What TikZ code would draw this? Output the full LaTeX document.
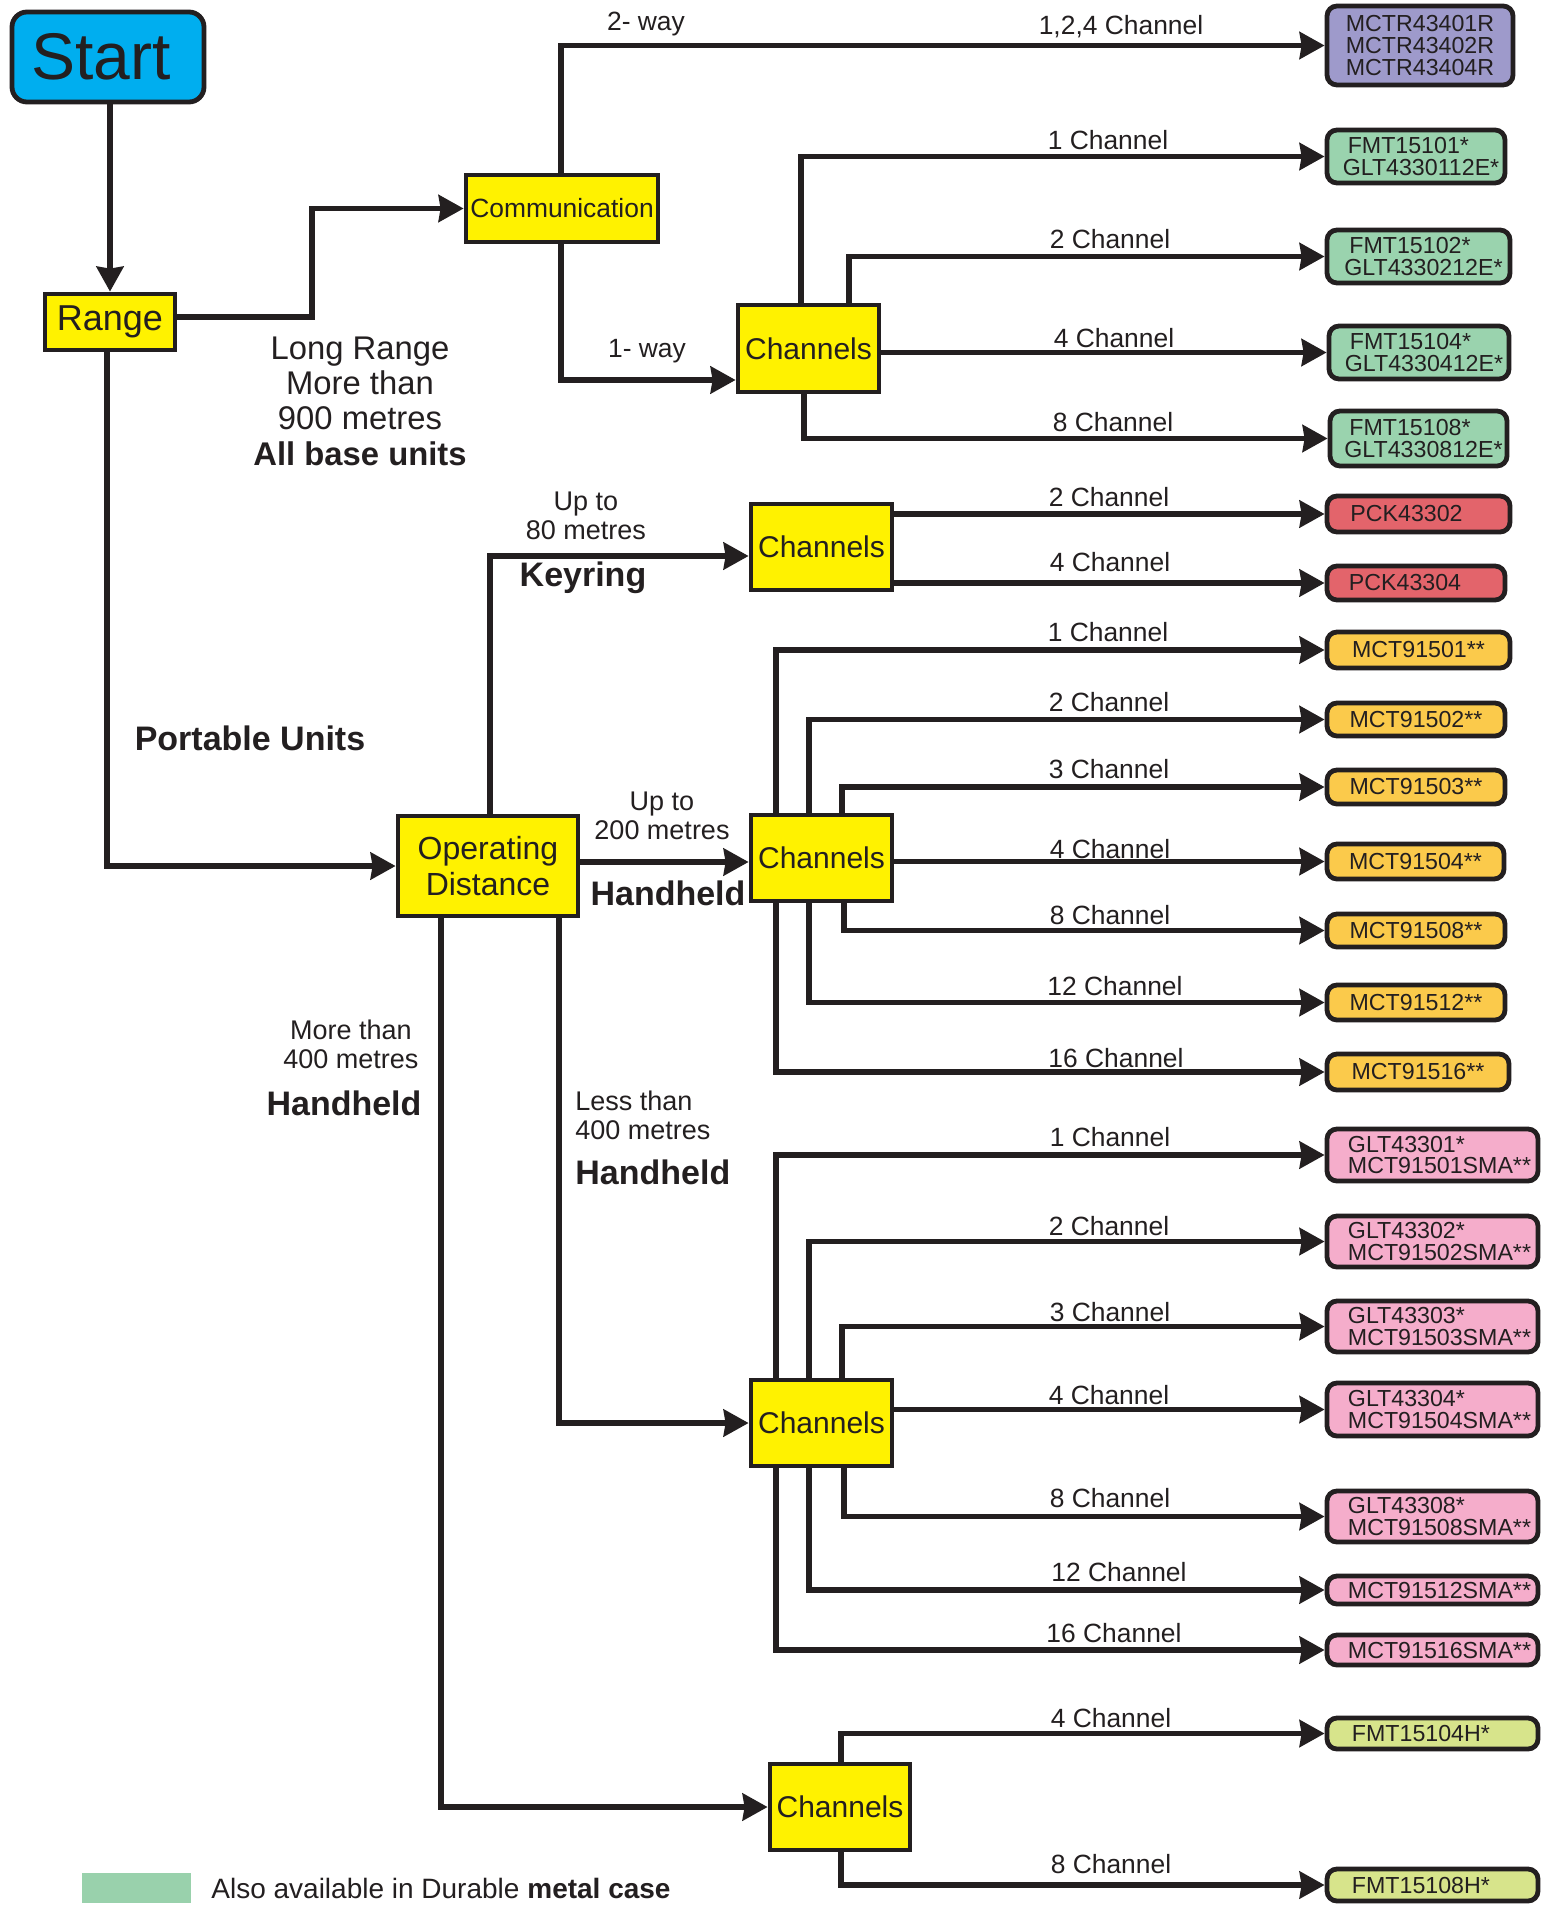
\documentclass[tikz,border=0pt]{standalone}
\usepackage{fontspec}
\setmainfont{Liberation Sans}
\usetikzlibrary{arrows.meta}
\definecolor{ink}{HTML}{231F20}
\definecolor{yellowc}{HTML}{FFF200}
\definecolor{cyanc}{HTML}{00AEEF}
\definecolor{purplec}{HTML}{9E9ACB}
\definecolor{greenc}{HTML}{9AD3AE}
\definecolor{redc}{HTML}{E3646B}
\definecolor{orangec}{HTML}{FBCA4B}
\definecolor{pinkc}{HTML}{F5ADCB}
\definecolor{limec}{HTML}{D7E48B}
\definecolor{legendc}{HTML}{99D1AC}
\newcommand{\padd}[1]{\rule{#1}{0pt}}
\tikzset{
  spanbox/.style n args={4}{at={({(#1+#3)/2},{(#2+#4)/2})},
     minimum width={(#3-#1)*0.5pt}, minimum height={(#4-#2)*0.5pt}},
  box/.style={draw=ink, line width=2.4pt, inner sep=0pt, text=ink, anchor=center},
  ybox/.style={box, fill=yellowc, font=\fontsize{15}{18}\selectfont},
  rbox/.style={box, rounded corners=5pt, font=\fontsize{11.6}{10.6}\selectfont},
  arr/.style={draw=ink, line width=2.6pt, -{Stealth[length=12.5pt,width=13.5pt,inset=1pt]}},
  lbl/.style={text=ink, font=\fontsize{13.2}{15}\selectfont, inner sep=0pt},
  blbl/.style={text=ink, font=\fontsize{17}{20}\selectfont\bfseries, inner sep=0pt},
  mlbl/.style={text=ink, font=\fontsize{13.5}{14.5}\selectfont, inner sep=0pt, align=center}
}
\begin{document}
\begin{tikzpicture}[x=0.5pt,y=-0.5pt]
\useasboundingbox (0,0) rectangle (1550,1910);
\fill[white] (0,0) rectangle (1550,1910);

% main nodes
\node[box, fill=cyanc, rounded corners=7.5pt, spanbox={12}{12}{204}{102}, font=\fontsize{33}{36}\selectfont] (start) {Start\padd{7pt}};
\node[ybox, spanbox={45}{294}{175}{350}, font=\fontsize{18}{20}\selectfont] (range) {Range};
\node[ybox, spanbox={466}{175}{658}{242}, font=\fontsize{13.2}{15}\selectfont] (comm) {Communication};
\node[ybox, spanbox={738}{305}{879}{392}] (ch1) {Channels};
\node[ybox, spanbox={398}{816}{578}{916}, font=\fontsize{16}{18}\selectfont, align=center] (od) {Operating\\Distance};
\node[ybox, spanbox={751}{504}{892}{590}] (ch2) {Channels};
\node[ybox, spanbox={751}{815}{892}{901}] (ch3) {Channels};
\node[ybox, spanbox={751}{1380}{892}{1466}] (ch4) {Channels};
\node[ybox, spanbox={770}{1764}{910}{1850}] (ch5) {Channels};

% product boxes
\node[rbox, fill=purplec, spanbox={1327}{6}{1513}{85}, align=center, font=\fontsize{11.6}{11}\selectfont] (mctr) {MCTR43401R\\MCTR43402R\\MCTR43404R};
\node[rbox, fill=greenc, spanbox={1327}{130}{1505}{183}, align=left] (fmt1) {\padd{7.5pt}FMT15101*\\\padd{5pt}GLT4330112E*};
\node[rbox, fill=greenc, spanbox={1327}{230}{1510}{283}, align=left] (fmt2) {\padd{7.5pt}FMT15102*\\\padd{5pt}GLT4330212E*};
\node[rbox, fill=greenc, spanbox={1329}{326}{1509}{379}, align=left] (fmt4) {\padd{7.5pt}FMT15104*\\\padd{5pt}GLT4330412E*};
\node[rbox, fill=greenc, spanbox={1330}{411}{1507}{466}, align=left] (fmt8) {\padd{7.5pt}FMT15108*\\\padd{5pt}GLT4330812E*};

\node[rbox, fill=redc, spanbox={1327}{496}{1510}{532}] (pck2) {PCK43302\padd{12pt}};
\node[rbox, fill=redc, spanbox={1327}{566}{1505}{600}] (pck4) {PCK43304\padd{11pt}};

\node[rbox, fill=orangec, spanbox={1327}{632}{1510}{668}] (mct1) {MCT91501**};
\node[rbox, fill=orangec, spanbox={1327}{703}{1505}{736}] (mct2) {MCT91502**};
\node[rbox, fill=orangec, spanbox={1327}{770}{1505}{804}] (mct3) {MCT91503**};
\node[rbox, fill=orangec, spanbox={1327}{844}{1504}{879}] (mct4) {MCT91504**};
\node[rbox, fill=orangec, spanbox={1327}{914}{1505}{947}] (mct8) {MCT91508**};
\node[rbox, fill=orangec, spanbox={1327}{985}{1505}{1020}] (mct12) {MCT91512**};
\node[rbox, fill=orangec, spanbox={1327}{1054}{1509}{1090}] (mct16) {MCT91516**};

\node[rbox, fill=pinkc, spanbox={1327}{1129}{1538}{1181}, align=left] (glt1) {\padd{7pt}GLT43301*\\\padd{7pt}MCT91501SMA**};
\node[rbox, fill=pinkc, spanbox={1327}{1216}{1538}{1267}, align=left] (glt2) {\padd{7pt}GLT43302*\\\padd{7pt}MCT91502SMA**};
\node[rbox, fill=pinkc, spanbox={1327}{1301}{1538}{1352}, align=left] (glt3) {\padd{7pt}GLT43303*\\\padd{7pt}MCT91503SMA**};
\node[rbox, fill=pinkc, spanbox={1327}{1383}{1538}{1436}, align=left] (glt4) {\padd{7pt}GLT43304*\\\padd{7pt}MCT91504SMA**};
\node[rbox, fill=pinkc, spanbox={1327}{1491}{1538}{1542}, align=left] (glt8) {\padd{7pt}GLT43308*\\\padd{7pt}MCT91508SMA**};
\node[rbox, fill=pinkc, spanbox={1327}{1576}{1538}{1604}] (sma12) {\padd{7pt}MCT91512SMA**};
\node[rbox, fill=pinkc, spanbox={1327}{1635}{1538}{1665}] (sma16) {\padd{7pt}MCT91516SMA**};

\node[rbox, fill=limec, spanbox={1327}{1718}{1538}{1749}] (fh4) {FMT15104H*\padd{11.6pt}};
\node[rbox, fill=limec, spanbox={1327}{1869}{1538}{1901}] (fh8) {FMT15108H*\padd{11.6pt}};

% bend coordinates
\coordinate (xc) at (561,0);
\coordinate (k1w) at (561,380);
\coordinate (kr) at (312,317);
\coordinate (xa1) at (801,0);
\coordinate (xa2) at (849,0);
\coordinate (xa8) at (804,0);
\coordinate (kp) at (107,0);
\coordinate (kk) at (490,556);
\coordinate (kh) at (0,862);
\coordinate (kl) at (559,1423);
\coordinate (km) at (441,1807);
\coordinate (xb1) at (776,0);
\coordinate (xb2) at (809,0);
\coordinate (xb3) at (842,0);
\coordinate (xb8) at (844,0);
\coordinate (xd) at (841,0);

% connectors
\draw[arr] (start.south -| range.north) -- (range.north);
\draw[arr] (range.east |- kr) -- (kr) |- (comm.west);
\draw[arr] (comm.north -| xc) |- (mctr.west);
\draw[arr] (comm.south -| xc) -- (k1w) -- (ch1.west |- k1w);
\draw[arr] (ch1.north -| xa1) |- (fmt1.west);
\draw[arr] (ch1.north -| xa2) |- (fmt2.west);
\draw[arr] (ch1.east |- fmt4.west) -- (fmt4.west);
\draw[arr] (ch1.south -| xa8) |- (fmt8.west);

\draw[arr] (range.south -| kp) |- (od.west);
\draw[arr] (od.north -| kk) |- (ch2.west |- kk);
\draw[arr] (ch2.east |- pck2.west) -- (pck2.west);
\draw[arr] (ch2.east |- pck4.west) -- (pck4.west);

\draw[arr] (od.east |- kh) -- (ch3.west |- kh);
\draw[arr] (ch3.north -| xb1) |- (mct1.west);
\draw[arr] (ch3.north -| xb2) |- (mct2.west);
\draw[arr] (ch3.north -| xb3) |- (mct3.west);
\draw[arr] (ch3.east |- mct4.west) -- (mct4.west);
\draw[arr] (ch3.south -| xb8) |- (mct8.west);
\draw[arr] (ch3.south -| xb2) |- (mct12.west);
\draw[arr] (ch3.south -| xb1) |- (mct16.west);

\draw[arr] (od.south -| kl) |- (ch4.west |- kl);
\draw[arr] (ch4.north -| xb1) |- (glt1.west);
\draw[arr] (ch4.north -| xb2) |- (glt2.west);
\draw[arr] (ch4.north -| xb3) |- (glt3.west);
\draw[arr] (ch4.east |- glt4.west) -- (glt4.west);
\draw[arr] (ch4.south -| xb8) |- (glt8.west);
\draw[arr] (ch4.south -| xb2) |- (sma12.west);
\draw[arr] (ch4.south -| xb1) |- (sma16.west);

\draw[arr] (od.south -| km) |- (ch5.west);
\draw[arr] (ch5.north -| xd) |- (fh4.west);
\draw[arr] (ch5.south -| xd) |- (fh8.west);

% labels
\node[lbl] (l2way) at (646,24) {2- way};
\node[lbl] (l124) at (1121,27) {1,2,4 Channel};
\node[lbl] (l1way) at (647,351) {1- way};
\node[lbl] (la1) at (1108,140) {1 Channel};
\node[lbl] (la2) at (1110,239) {2 Channel};
\node[lbl] (la4) at (1114,338) {4 Channel};
\node[lbl] (la8) at (1113,422) {8 Channel};

\node[text=ink, inner sep=0pt, align=center, font=\fontsize{16.4}{17.7}\selectfont] (llong) at (360,401) {Long Range\\More than\\900 metres\\\textbf{All base units}};
\node[blbl] (lport) at (250,738) {Portable Units};

\node[mlbl] (lup80) at (586,516) {Up to\\80 metres};
\node[blbl] (lkey) at (583,578) {Keyring};
\node[lbl] (lb2) at (1109,497) {2 Channel};
\node[lbl] (lb4) at (1110,562) {4 Channel};

\node[mlbl] (lup200) at (662,816) {Up to\\200 metres};
\node[blbl] (lhh1) at (668,893) {Handheld};
\node[lbl] (lc1) at (1108,632) {1 Channel};
\node[lbl] (lc2) at (1109,702) {2 Channel};
\node[lbl] (lc3) at (1109,769) {3 Channel};
\node[lbl] (lc4) at (1110,849) {4 Channel};
\node[lbl] (lc8) at (1110,915) {8 Channel};
\node[lbl] (lc12) at (1115,986) {12 Channel};
\node[lbl] (lc16) at (1116,1058) {16 Channel};

\node[mlbl] (lmore) at (351,1044) {More than\\400 metres};
\node[blbl] (lhh2) at (344,1103) {Handheld};
\node[mlbl, align=left, anchor=west] (lless) at (575,1115) {Less than\\400 metres};
\node[blbl, anchor=west] (lhh3) at (575,1172) {Handheld};
\node[lbl] (ld1) at (1110,1137) {1 Channel};
\node[lbl] (ld2) at (1109,1226) {2 Channel};
\node[lbl] (ld3) at (1110,1312) {3 Channel};
\node[lbl] (ld4) at (1109,1395) {4 Channel};
\node[lbl] (ld8) at (1110,1498) {8 Channel};
\node[lbl] (ld12) at (1119,1572) {12 Channel};
\node[lbl] (ld16) at (1114,1633) {16 Channel};

\node[lbl] (le4) at (1111,1718) {4 Channel};
\node[lbl] (le8) at (1111,1864) {8 Channel};

% legend
\fill[legendc] (82,1873) rectangle (191,1903);
\node[text=ink, inner sep=0pt, anchor=west, font=\fontsize{14}{16}\selectfont] (legend) at (211,1888) {Also available in Durable \textbf{metal case}};
\end{tikzpicture}
\end{document}
